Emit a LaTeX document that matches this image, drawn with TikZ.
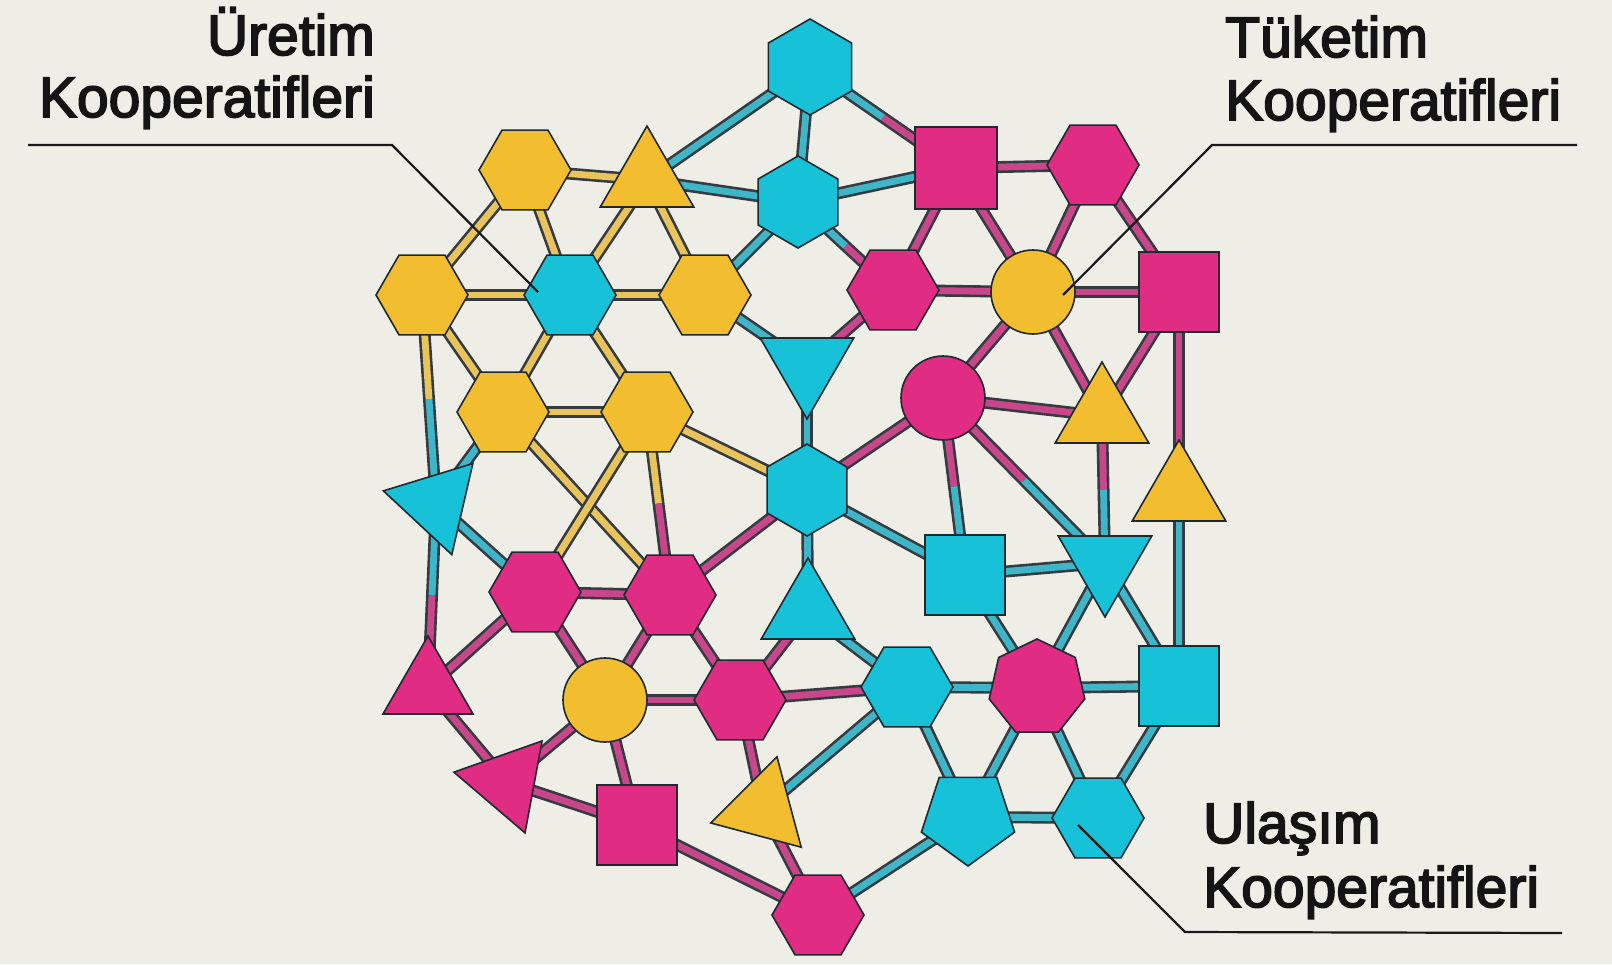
\documentclass[tikz,border=0pt]{standalone}
\usepackage{fontspec}
\usetikzlibrary{shapes.geometric,calc}
\newfontfamily\labfont{Liberation Sans}[FakeBold=3]
\definecolor{bgc}{HTML}{EEEEE7}
\definecolor{cy}{HTML}{17C2D9}
\definecolor{mg}{HTML}{E02C82}
\definecolor{ye}{HTML}{F2BD2F}
\definecolor{outl}{HTML}{1E2A30}
\definecolor{ecy}{HTML}{3FB6C8}
\definecolor{emg}{HTML}{C8468A}
\definecolor{eye}{HTML}{E9C35B}
\definecolor{eout}{HTML}{353B40}
\pgfdeclarelayer{background}
\pgfsetlayers{background,main}
\newcommand\cedge[3]{%
  \draw[eo] (#1.center) -- (#2.center);
  \draw[ei,#3] (#1.center) -- (#2.center);}
\newcommand\sedge[4]{%
  \draw[eo] (#1.center) -- (#2.center);
  \draw[ei,#3] (#1.center) -- ($(#1.center)!0.5!(#2.center)$);
  \draw[ei,#4] ($(#1.center)!0.5!(#2.center)$) -- (#2.center);}
\begin{document}
\begin{tikzpicture}[x=1pt,y=-1pt,
  nb/.style={draw=outl, line width=1.6pt, inner sep=0pt, outer sep=0pt},
  hexf/.style={nb, regular polygon, regular polygon sides=6, minimum size=92pt},
  hexp/.style={hexf, rotate=30},
  tri/.style={nb, regular polygon, regular polygon sides=3, minimum size=108pt},
  tridn/.style={tri, rotate=180},
  sq/.style={nb, rectangle, minimum size=80pt},
  circ/.style={nb, circle, minimum size=84pt},
  pent/.style={nb, regular polygon, regular polygon sides=5, minimum size=98pt, rotate=180},
  hept/.style={nb, regular polygon, regular polygon sides=7, minimum size=98pt},
  eo/.style={draw=eout, line width=12pt},
  ei/.style={line width=6.8pt},
  lab/.style={font=\labfont\fontsize{57}{60}\selectfont, inner sep=0pt, text=black!92},
  lead/.style={draw=black!90, line width=2.2pt}]
\begin{pgfonlayer}{background}
\fill[bgc] (0,0) rectangle (1612,964);
\end{pgfonlayer}
\useasboundingbox (0,0) rectangle (1612,964);
% nodes
\node[hexp, fill=cy, minimum size=96pt] (n1) at (810,67) {};
\node[hexf, fill=ye] (n2) at (525,170) {};
\node[tri, fill=ye] (n3) at (647,180) {};
\node[hexp, fill=cy] (n4) at (798,202) {};
\node[sq, fill=mg, minimum size=82pt] (n5) at (956,168) {};
\node[hexf, fill=mg] (n6) at (1093,165) {};
\node[hexf, fill=ye] (n7) at (422,295) {};
\node[hexf, fill=cy] (n8) at (570,295) {};
\node[hexf, fill=ye] (n9) at (705,295) {};
\node[hexf, fill=mg] (n10) at (893,290) {};
\node[circ, fill=ye] (n11) at (1033,292) {};
\node[sq, fill=mg] (n12) at (1179,292) {};
\node[tridn, fill=cy] (n13) at (807,365) {};
\node[circ, fill=mg] (n14) at (943,398) {};
\node[tri, fill=ye] (n15) at (1102,416) {};
\node[hexf, fill=ye] (n16) at (503,412) {};
\node[hexf, fill=ye] (n17) at (647,412) {};
\node[hexp, fill=cy] (n18) at (807,490) {};
\node[tri, fill=ye] (n19) at (1179,494) {};
\node[tri, fill=cy, rotate=77] (n20) at (436,503) {};
\node[sq, fill=cy] (n21) at (965,575) {};
\node[tridn, fill=cy] (n22) at (1105,563) {};
\node[hexf, fill=mg] (n23) at (535,592) {};
\node[hexf, fill=mg] (n24) at (670,595) {};
\node[tri, fill=cy] (n25) at (808,612) {};
\node[tri, fill=mg, minimum size=104pt] (n26) at (428,688) {};
\node[circ, fill=ye] (n27) at (605,700) {};
\node[hexf, fill=mg] (n28) at (740,700) {};
\node[hexf, fill=cy] (n29) at (907,687) {};
\node[hept, fill=mg] (n30) at (1037,688) {};
\node[sq, fill=cy] (n31) at (1179,686) {};
\node[tri, fill=mg, rotate=79.5] (n32) at (507,782) {};
\node[sq, fill=mg] (n33) at (637,825) {};
\node[tri, fill=ye, rotate=105] (n34) at (763,809) {};
\node[pent, fill=cy] (n35) at (968,817) {};
\node[hexf, fill=cy] (n36) at (1098,818) {};
\node[hexf, fill=mg] (n37) at (818,915) {};
% edges
\begin{pgfonlayer}{background}
\cedge{n1}{n4}{ecy}
\cedge{n1}{n3}{ecy}
\sedge{n1}{n5}{ecy}{emg}
\cedge{n2}{n3}{eye}
\cedge{n2}{n7}{eye}
\cedge{n2}{n8}{eye}
\cedge{n3}{n8}{eye}
\cedge{n3}{n9}{eye}
\cedge{n3}{n4}{ecy}
\cedge{n4}{n5}{ecy}
\cedge{n4}{n9}{ecy}
\sedge{n4}{n10}{ecy}{emg}
\cedge{n5}{n6}{emg}
\cedge{n5}{n10}{emg}
\cedge{n5}{n11}{emg}
\cedge{n6}{n11}{emg}
\cedge{n6}{n12}{emg}
\cedge{n7}{n8}{eye}
\cedge{n7}{n16}{eye}
\sedge{n7}{n20}{eye}{ecy}
\cedge{n8}{n9}{eye}
\cedge{n8}{n16}{eye}
\cedge{n8}{n17}{eye}
\cedge{n9}{n13}{ecy}
\cedge{n10}{n11}{emg}
\cedge{n10}{n13}{emg}
\cedge{n11}{n12}{emg}
\cedge{n11}{n14}{emg}
\cedge{n11}{n15}{emg}
\cedge{n12}{n15}{emg}
\cedge{n12}{n19}{emg}
\cedge{n13}{n18}{ecy}
\cedge{n14}{n18}{emg}
\cedge{n14}{n15}{emg}
\sedge{n14}{n21}{emg}{ecy}
\sedge{n14}{n22}{emg}{ecy}
\sedge{n15}{n22}{emg}{ecy}
\cedge{n16}{n17}{eye}
\cedge{n16}{n20}{ecy}
\cedge{n16}{n24}{eye}
\cedge{n17}{n23}{eye}
\sedge{n17}{n24}{eye}{emg}
\cedge{n17}{n18}{eye}
\cedge{n18}{n21}{ecy}
\cedge{n18}{n25}{ecy}
\cedge{n18}{n24}{emg}
\cedge{n19}{n31}{ecy}
\cedge{n20}{n23}{ecy}
\sedge{n20}{n26}{ecy}{emg}
\cedge{n21}{n22}{ecy}
\cedge{n21}{n30}{ecy}
\cedge{n22}{n30}{ecy}
\cedge{n22}{n31}{ecy}
\cedge{n23}{n24}{emg}
\cedge{n23}{n26}{emg}
\cedge{n23}{n27}{emg}
\cedge{n24}{n27}{emg}
\cedge{n24}{n28}{emg}
\cedge{n25}{n28}{emg}
\cedge{n25}{n29}{ecy}
\cedge{n26}{n32}{emg}
\cedge{n27}{n28}{emg}
\cedge{n27}{n32}{emg}
\cedge{n27}{n33}{emg}
\cedge{n28}{n29}{emg}
\cedge{n28}{n34}{emg}
\cedge{n29}{n30}{ecy}
\cedge{n29}{n34}{ecy}
\cedge{n29}{n35}{ecy}
\cedge{n30}{n31}{ecy}
\cedge{n30}{n35}{ecy}
\cedge{n30}{n36}{ecy}
\cedge{n31}{n36}{ecy}
\cedge{n32}{n33}{emg}
\cedge{n33}{n37}{emg}
\cedge{n34}{n37}{emg}
\cedge{n35}{n36}{ecy}
\cedge{n35}{n37}{ecy}
\end{pgfonlayer}
% labels
\node[lab, anchor=base east] (u1) at (375,55) {Üretim};
\node[lab, anchor=base east] (u2) at (375,117) {Kooperatifleri};
\node[lab, anchor=base west] (t1) at (1225,57) {Tüketim};
\node[lab, anchor=base west] (t2) at (1225,120) {Kooperatifleri};
\node[lab, anchor=base west] (l1) at (1203,843) {Ulaşım};
\node[lab, anchor=base west] (l2) at (1203,907) {Kooperatifleri};
% leader lines
\coordinate (ua) at (28,145);
\coordinate (ub) at (392,145);
\coordinate (ta) at (1577,145);
\coordinate (tb) at (1212,145);
\coordinate (la) at (1185,932);
\coordinate (lb) at (1562,933);
\draw[lead] (ua) -- (ub) -- ($(n8.center)+(-32,-3)$);
\draw[lead] (ta) -- (tb) -- ($(n11.center)+(30,3)$);
\draw[lead] (lb) -- (la) -- ($(n36.center)+(-20,7)$);
\end{tikzpicture}
\end{document}
